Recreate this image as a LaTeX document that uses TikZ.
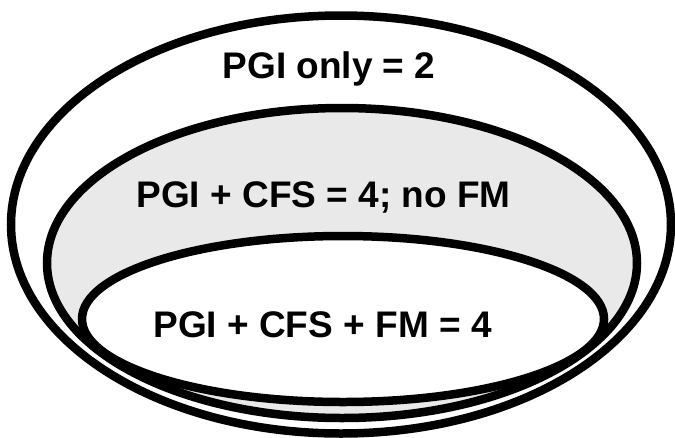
\documentclass[tikz,border=0pt]{standalone}
\usepackage{fontspec}
\setmainfont{Liberation Sans}
\definecolor{ringgray}{RGB}{233,233,233}
\begin{document}
\begin{tikzpicture}[x=1pt,y=-1pt,
  ring/.style={draw=black,line width=8.5pt},
  lbl/.style={font=\bfseries\fontsize{37}{40}\selectfont,anchor=base,inner sep=0pt}]
\fill[white] (0,0) rectangle (675,437);
\useasboundingbox (0,0) rectangle (675,437);
\draw[ring,fill=white] (341,224.5) ellipse [x radius=330pt,y radius=209pt];
\draw[ring,fill=ringgray] (342,263) ellipse [x radius=295pt,y radius=155pt];
\draw[ring,fill=white] (343,319) ellipse [x radius=261pt,y radius=83pt];
\node[lbl] (outer) at (329,78) {PGI only = 2};
\node[lbl] (middle) at (323.5,207) {PGI + CFS = 4; no FM};
\node[lbl] (inner) at (322.5,337) {PGI + CFS + FM = 4};
\end{tikzpicture}
\end{document}
